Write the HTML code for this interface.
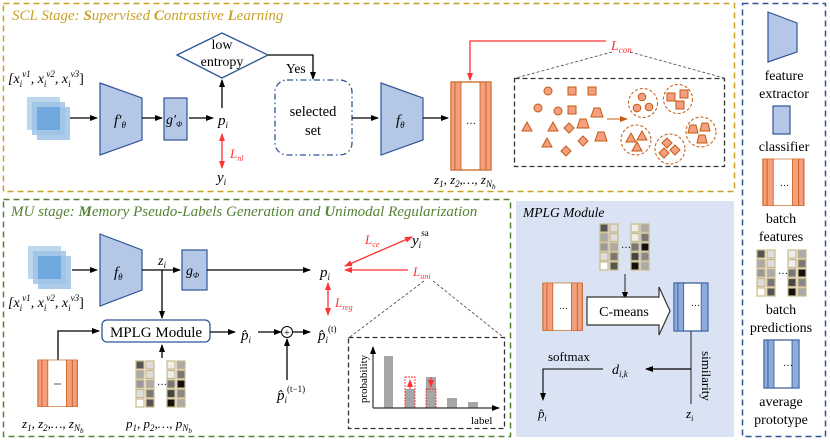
<!DOCTYPE html>
<html><head><meta charset="utf-8"><style>
html,body{margin:0;padding:0;background:#fff}
svg{display:block}
text{font-family:"Liberation Serif",serif;fill:#000}
.it{font-style:italic}
</style></head><body>
<svg width="830" height="440" viewBox="0 0 830 440" xmlns="http://www.w3.org/2000/svg">
<defs>
<marker id="a" markerWidth="8" markerHeight="8" refX="7" refY="4" orient="auto" markerUnits="userSpaceOnUse"><path d="M0,1 L8,4 L0,7 Z" fill="#000"/></marker>
<marker id="r" markerWidth="8" markerHeight="8" refX="7" refY="4" orient="auto" markerUnits="userSpaceOnUse"><path d="M0,1 L8,4 L0,7 Z" fill="#f33"/></marker>
<marker id="rs" markerWidth="8" markerHeight="8" refX="1" refY="4" orient="auto" markerUnits="userSpaceOnUse"><path d="M8,1 L0,4 L8,7 Z" fill="#f33"/></marker>
<marker id="o" markerWidth="8" markerHeight="8" refX="7" refY="4" orient="auto" markerUnits="userSpaceOnUse"><path d="M0,1 L8,4 L0,7 Z" fill="#c55a11"/></marker>
<g id="bf">
<rect x="0" y="0" width="40" height="88" fill="#fff" stroke="#c55a11" stroke-width="1.2"/>
<rect x="0" y="0" width="4" height="88" fill="#f4a080" stroke="#c55a11" stroke-width="0.8"/>
<rect x="4" y="0" width="6" height="88" fill="#f4a080" stroke="#c55a11" stroke-width="0.8"/>
<rect x="29" y="0" width="6" height="88" fill="#f4a080" stroke="#c55a11" stroke-width="0.8"/>
<rect x="35" y="0" width="5" height="88" fill="#f4a080" stroke="#c55a11" stroke-width="0.8"/>
</g>
<g id="bp">
<rect x="0" y="0" width="35" height="48" fill="#fff" stroke="#2f5597" stroke-width="1.2"/>
<rect x="0" y="0" width="4" height="48" fill="#8faadc" stroke="#2f5597" stroke-width="0.8"/>
<rect x="4" y="0" width="6" height="48" fill="#8faadc" stroke="#2f5597" stroke-width="0.8"/>
<rect x="28" y="0" width="7" height="48" fill="#8faadc" stroke="#2f5597" stroke-width="0.8"/>
</g>
<g id="grid" stroke="#c9b98a" stroke-width="1.2">
<rect x="0" y="0" width="8" height="8" fill="#555"/><rect x="0" y="9.5" width="8" height="8" fill="#aaa"/><rect x="0" y="19" width="8" height="8" fill="#999"/><rect x="0" y="28.5" width="8" height="8" fill="#ddd"/><rect x="0" y="38" width="8" height="8" fill="#fff"/>
<rect x="10" y="0" width="8" height="8" fill="#ddd"/><rect x="10" y="9.5" width="8" height="8" fill="#ddd"/><rect x="10" y="19" width="8" height="8" fill="#aaa"/><rect x="10" y="28.5" width="8" height="8" fill="#777"/><rect x="10" y="38" width="8" height="8" fill="#555"/>
<rect x="31" y="0" width="8" height="8" fill="#eee"/><rect x="31" y="9.5" width="8" height="8" fill="#eee"/><rect x="31" y="19" width="8" height="8" fill="#777"/><rect x="31" y="28.5" width="8" height="8" fill="#444"/><rect x="31" y="38" width="8" height="8" fill="#111"/>
<rect x="41" y="0" width="8" height="8" fill="#aaa"/><rect x="41" y="9.5" width="8" height="8" fill="#777"/><rect x="41" y="19" width="8" height="8" fill="#111"/><rect x="41" y="28.5" width="8" height="8" fill="#888"/><rect x="41" y="38" width="8" height="8" fill="#aaa"/>
<text x="21" y="24" font-size="10" stroke="none">…</text>
</g>
<g id="img">
<rect x="0" y="0" width="33" height="33" fill="#bdd7ee"/>
<rect x="5" y="5" width="33" height="33" fill="#9dc3e6" opacity="0.85"/>
<rect x="10" y="10" width="33" height="33" fill="#9dc3e6" opacity="0.85"/>
<rect x="10" y="10" width="23" height="23" fill="#6fa8dc"/>
</g>
</defs>

<!-- panels -->
<rect x="3.5" y="3.5" width="731" height="188" fill="none" stroke="#c9a227" stroke-width="1.5" stroke-dasharray="6,4"/>
<rect x="742.5" y="3.5" width="83" height="433" fill="none" stroke="#2f5597" stroke-width="1.5" stroke-dasharray="6,4"/>
<rect x="3.5" y="199.5" width="507" height="237" fill="none" stroke="#548235" stroke-width="1.5" stroke-dasharray="6,4"/>
<rect x="516" y="201" width="218" height="236" fill="#dae3f3"/>

<text x="12" y="20" class="it" font-size="15" style="fill:#c9a227">SCL Stage: <tspan font-weight="bold">S</tspan>upervised <tspan font-weight="bold">C</tspan>ontrastive <tspan font-weight="bold">L</tspan>earning</text>
<text x="11" y="216" class="it" font-size="15" style="fill:#548235">MU stage: <tspan font-weight="bold">M</tspan>emory Pseudo-Labels Generation and <tspan font-weight="bold">U</tspan>nimodal Regularization</text>

<!-- TOP -->
<text x="8" y="83" font-size="14" class="it">[x<tspan font-size="9" dy="4">i</tspan><tspan font-size="9" dy="-10">v1</tspan><tspan dy="6">, x</tspan><tspan font-size="9" dy="4">i</tspan><tspan font-size="9" dy="-10">v2</tspan><tspan dy="6">, x</tspan><tspan font-size="9" dy="4">i</tspan><tspan font-size="9" dy="-10">v3</tspan><tspan dy="6" font-style="normal">]</tspan></text>
<use href="#img" x="27" y="97"/>
<line x1="70" y1="118" x2="97" y2="118" stroke="#000" stroke-width="1.3" marker-end="url(#a)"/>
<polygon points="100,83 142,98 142,140 100,155" fill="#b4c7e7" stroke="#2f5597" stroke-width="1.2"/>
<text x="114" y="125" class="it" font-size="15">f′<tspan font-size="9" dy="3">θ</tspan></text>
<line x1="142" y1="118" x2="162" y2="118" stroke="#000" stroke-width="1.3" marker-end="url(#a)"/>
<rect x="164" y="98" width="23" height="42" fill="#b4c7e7" stroke="#2f5597" stroke-width="1.2"/>
<text x="166" y="124" class="it" font-size="14">g′<tspan font-size="8" dy="3">Φ</tspan></text>
<line x1="189" y1="118" x2="213" y2="118" stroke="#000" stroke-width="1.3" marker-end="url(#a)"/>
<text x="218" y="125" class="it" font-size="15">p<tspan font-size="9" dy="3">i</tspan></text>
<line x1="222" y1="108" x2="222" y2="80" stroke="#000" stroke-width="1.3" marker-end="url(#a)"/>
<polygon points="177,55 222,33 268,55 222,78" fill="#fff" stroke="#2f5597" stroke-width="1.3"/>
<text x="222" y="49" font-size="14" text-anchor="middle">low</text>
<text x="222" y="66" font-size="14" text-anchor="middle">entropy</text>
<polyline points="268,55 313,55 313,79" fill="none" stroke="#000" stroke-width="1.3" marker-end="url(#a)"/>
<text x="286" y="73" font-size="13.5">Yes</text>
<rect x="275" y="80" width="77" height="75" rx="12" fill="none" stroke="#2f5597" stroke-width="1.3" stroke-dasharray="6,3,1.5,3"/>
<text x="313" y="116" font-size="14.5" text-anchor="middle">selected</text>
<text x="313" y="135" font-size="14.5" text-anchor="middle">set</text>
<line x1="352" y1="118" x2="378" y2="118" stroke="#000" stroke-width="1.3" marker-end="url(#a)"/>
<polygon points="381,83 423,98 423,140 381,155" fill="#b4c7e7" stroke="#2f5597" stroke-width="1.2"/>
<text x="396" y="125" class="it" font-size="15">f<tspan font-size="9" dy="3">θ</tspan></text>
<line x1="423" y1="118" x2="448" y2="118" stroke="#000" stroke-width="1.3" marker-end="url(#a)"/>
<use href="#bf" x="451" y="82"/>
<text x="466" y="124" font-size="10">…</text>
<text x="434" y="184" class="it" font-size="13">z<tspan font-size="9" dy="3">1</tspan><tspan dy="-3">, z</tspan><tspan font-size="9" dy="3">2</tspan><tspan dy="-3">,…, z</tspan><tspan font-size="9" dy="3">N</tspan><tspan font-size="7" dy="2">b</tspan></text>
<polyline points="606,41 470,41 470,80" fill="none" stroke="#f33" stroke-width="1.3" marker-end="url(#r)"/>
<text x="611" y="50" class="it" font-size="14" style="fill:#f33">L<tspan font-size="9" dy="3">con</tspan></text>
<line x1="222" y1="134" x2="222" y2="168" stroke="#f33" stroke-width="1.3" marker-start="url(#rs)" marker-end="url(#r)"/>
<text x="230" y="158" class="it" font-size="13" style="fill:#f33">L<tspan font-size="8" dy="3">nl</tspan></text>
<text x="217" y="182" class="it" font-size="15">y<tspan font-size="9" dy="3">i</tspan></text>

<!-- zoom box top -->
<line x1="612" y1="52" x2="516" y2="78" stroke="#444" stroke-width="0.8" stroke-dasharray="3,2"/>
<line x1="630" y1="52" x2="724" y2="78" stroke="#444" stroke-width="0.8" stroke-dasharray="3,2"/>
<rect x="514.5" y="78.5" width="210" height="88" fill="none" stroke="#333" stroke-width="1.3" stroke-dasharray="5,3"/>
<g fill="#f4a080" stroke="#c55a11" stroke-width="1">
<circle cx="548" cy="91" r="4"/><circle cx="538" cy="108" r="4"/><circle cx="558" cy="111" r="4"/>
<rect x="568" y="87" width="8" height="8"/><rect x="588" y="87" width="8" height="8"/><rect x="568" y="106" width="8" height="8"/>
<polygon points="594,108 600,108 603,117 591,117"/><polygon points="580,119 586,119 589,128 577,128"/><polygon points="598,132 604,132 607,141 595,141"/>
<polygon points="527,122 532,131 522,131"/><polygon points="553,122 558,131 548,131"/><polygon points="547,138 552,147 542,147"/>
<polygon points="569,123 574,128 569,133 564,128"/><polygon points="583,136 588,141 583,146 578,141"/><polygon points="566,146 571,151 566,156 561,151"/>
</g>
<line x1="607" y1="119" x2="627" y2="119" stroke="#c55a11" stroke-width="1" marker-end="url(#o)"/>
<g fill="none" stroke="#c55a11" stroke-width="1" stroke-dasharray="3,2">
<circle cx="643" cy="103" r="14.5"/><circle cx="678" cy="99" r="14.5"/><circle cx="636" cy="140" r="15"/><circle cx="670" cy="149" r="15"/><circle cx="701" cy="132" r="15"/>
</g>
<g fill="#f4a080" stroke="#c55a11" stroke-width="1">
<circle cx="642" cy="97" r="3.8"/><circle cx="637" cy="108" r="3.8"/><circle cx="649" cy="107" r="3.8"/>
<rect x="667" y="93" width="8" height="8"/><rect x="680" y="90" width="8" height="8"/><rect x="676" y="101" width="8" height="8"/>
<polygon points="631,133 636,142 626,142"/><polygon points="642,131 647,140 637,140"/><polygon points="637,142 642,151 632,151"/>
<polygon points="667,138 672,143 667,148 662,143"/><polygon points="675,145 680,150 675,155 670,150"/><polygon points="664,148 669,153 664,158 659,153"/>
<polygon points="690,125 696,125 698,133 688,133"/><polygon points="702,123 708,123 710,131 700,131"/><polygon points="699,135 705,135 707,143 697,143"/>
</g>

<!-- LEGEND -->
<polygon points="768,12 797,23 797,52 768,62" fill="#b4c7e7" stroke="#2f5597" stroke-width="1.2"/>
<text x="784" y="80" font-size="14" text-anchor="middle">feature</text>
<text x="784" y="98" font-size="14" text-anchor="middle">extractor</text>
<rect x="773" y="106" width="17" height="28" fill="#b4c7e7" stroke="#2f5597" stroke-width="1.2"/>
<text x="784" y="151" font-size="14" text-anchor="middle">classifier</text>
<g transform="translate(763,159) scale(1.02,0.53)"><use href="#bf"/></g>
<text x="780" y="186" font-size="9">…</text>
<text x="781" y="223" font-size="14" text-anchor="middle">batch</text>
<text x="781" y="241" font-size="14" text-anchor="middle">features</text>
<use href="#grid" x="757" y="250"/>
<text x="781" y="314" font-size="14" text-anchor="middle">batch</text>
<text x="781" y="332" font-size="14" text-anchor="middle">predictions</text>
<use href="#bp" x="764" y="340"/>
<text x="783" y="366" font-size="10">…</text>
<text x="781" y="406" font-size="14" text-anchor="middle">average</text>
<text x="781" y="424" font-size="14" text-anchor="middle">prototype</text>

<!-- BOTTOM -->
<use href="#img" x="28" y="246"/>
<line x1="72" y1="270" x2="97" y2="270" stroke="#000" stroke-width="1.3" marker-end="url(#a)"/>
<polygon points="100,234 142,250 142,290 100,306" fill="#b4c7e7" stroke="#2f5597" stroke-width="1.2"/>
<text x="114" y="277" class="it" font-size="15">f<tspan font-size="9" dy="3">θ</tspan></text>
<text x="158" y="265" class="it" font-size="14">z<tspan font-size="9" dy="3">i</tspan></text>
<line x1="142" y1="270" x2="180" y2="270" stroke="#000" stroke-width="1.3" marker-end="url(#a)"/>
<line x1="162" y1="270" x2="162" y2="318" stroke="#000" stroke-width="1.3" marker-end="url(#a)"/>
<rect x="182" y="250" width="25" height="40" fill="#b4c7e7" stroke="#2f5597" stroke-width="1.2"/>
<text x="186" y="275" class="it" font-size="14">g<tspan font-size="8" dy="3">Φ</tspan></text>
<line x1="207" y1="270" x2="310" y2="270" stroke="#000" stroke-width="1.3" marker-end="url(#a)"/>
<text x="8" y="307" font-size="14" class="it">[x<tspan font-size="9" dy="4">i</tspan><tspan font-size="9" dy="-10">v1</tspan><tspan dy="6">, x</tspan><tspan font-size="9" dy="4">i</tspan><tspan font-size="9" dy="-10">v2</tspan><tspan dy="6">, x</tspan><tspan font-size="9" dy="4">i</tspan><tspan font-size="9" dy="-10">v3</tspan><tspan dy="6" font-style="normal">]</tspan></text>
<text x="320" y="277" class="it" font-size="15">p<tspan font-size="9" dy="3">i</tspan></text>
<rect x="102" y="320" width="108" height="22" rx="5" fill="#fff" stroke="#2f5597" stroke-width="1.3"/>
<text x="156" y="337" font-size="15" text-anchor="middle">MPLG Module</text>
<polyline points="58,360 58,331 99,331" fill="none" stroke="#000" stroke-width="1.3" marker-end="url(#a)"/>
<g transform="translate(38,360) scale(0.98,0.53)"><use href="#bf"/></g>
<line x1="54" y1="384" x2="61" y2="384" stroke="#333" stroke-width="0.8"/>
<use href="#grid" x="136" y="361"/>
<line x1="162" y1="358" x2="162" y2="345" stroke="#000" stroke-width="1.3" marker-end="url(#a)"/>
<line x1="210" y1="332" x2="235" y2="332" stroke="#000" stroke-width="1.3" marker-end="url(#a)"/>
<text x="241" y="340" class="it" font-size="15">p̂<tspan font-size="9" dy="3">i</tspan></text>
<line x1="258" y1="332" x2="281" y2="332" stroke="#000" stroke-width="1.3" marker-end="url(#a)"/>
<circle cx="287" cy="332" r="5.5" fill="#fff" stroke="#000" stroke-width="1"/>
<text x="287" y="336" font-size="10" text-anchor="middle">+</text>
<line x1="293" y1="332" x2="310" y2="332" stroke="#000" stroke-width="1.3" marker-end="url(#a)"/>
<line x1="287" y1="380" x2="287" y2="339" stroke="#000" stroke-width="1.3" marker-end="url(#a)"/>
<text x="318" y="340" class="it" font-size="15">p̂<tspan font-size="9" dy="3">i</tspan><tspan font-size="9" dy="-11" font-style="normal">(t)</tspan></text>
<text x="277" y="400" class="it" font-size="15">p̂<tspan font-size="9" dy="3">i</tspan><tspan font-size="9" dy="-11" font-style="normal">(t−1)</tspan></text>
<text x="22" y="428" class="it" font-size="13">z<tspan font-size="9" dy="3">1</tspan><tspan dy="-3">, z</tspan><tspan font-size="9" dy="3">2</tspan><tspan dy="-3">,…, z</tspan><tspan font-size="9" dy="3">N</tspan><tspan font-size="7" dy="2">b</tspan></text>
<text x="126" y="428" class="it" font-size="13">p<tspan font-size="9" dy="3">1</tspan><tspan dy="-3">, p</tspan><tspan font-size="9" dy="3">2</tspan><tspan dy="-3">,…, p</tspan><tspan font-size="9" dy="3">N</tspan><tspan font-size="7" dy="2">b</tspan></text>

<line x1="412" y1="237" x2="345" y2="266" stroke="#f33" stroke-width="1.3" marker-start="url(#rs)" marker-end="url(#r)"/>
<text x="365" y="244" class="it" font-size="13" style="fill:#f33">L<tspan font-size="8" dy="3">ce</tspan></text>
<text x="412" y="245" class="it" font-size="15">y<tspan font-size="9" dy="3">i</tspan><tspan font-size="9" dy="-12" font-style="normal">sa</tspan></text>
<line x1="408" y1="270" x2="345" y2="270" stroke="#f33" stroke-width="1.3" marker-end="url(#r)"/>
<text x="413" y="276" class="it" font-size="13" style="fill:#f33">L<tspan font-size="8" dy="3">uni</tspan></text>
<line x1="328" y1="283" x2="328" y2="315" stroke="#f33" stroke-width="1.3" marker-start="url(#rs)" marker-end="url(#r)"/>
<text x="335" y="307" class="it" font-size="13" style="fill:#f33">L<tspan font-size="8" dy="3">reg</tspan></text>
<line x1="424" y1="281" x2="350" y2="337" stroke="#444" stroke-width="0.8" stroke-dasharray="3,2"/>
<line x1="433" y1="281" x2="503" y2="337" stroke="#444" stroke-width="0.8" stroke-dasharray="3,2"/>
<rect x="348.5" y="337.5" width="156" height="91" fill="#fff" stroke="#333" stroke-width="1.3" stroke-dasharray="5,3"/>
<g fill="#a6a6a6">
<rect x="384" y="356" width="9" height="52"/><rect x="405" y="389" width="10" height="19"/><rect x="426" y="377" width="10" height="31"/><rect x="447" y="398" width="10" height="10"/><rect x="468" y="402" width="10" height="6"/>
</g>
<rect x="405" y="377" width="10" height="31" fill="none" stroke="#f33" stroke-width="0.9" stroke-dasharray="2,1"/>
<rect x="426" y="389" width="10" height="19" fill="none" stroke="#f33" stroke-width="0.9" stroke-dasharray="2,1"/>
<line x1="410" y1="389" x2="410" y2="380" stroke="#f33" stroke-width="1" marker-end="url(#r)"/>
<line x1="431" y1="377" x2="431" y2="387" stroke="#f33" stroke-width="1" marker-end="url(#r)"/>
<line x1="373" y1="408" x2="373" y2="347" stroke="#333" stroke-width="1.2" marker-end="url(#a)"/>
<line x1="373" y1="408" x2="499" y2="408" stroke="#333" stroke-width="1.2" marker-end="url(#a)"/>
<text x="367" y="379" font-size="11" text-anchor="middle" transform="rotate(-90 367 379)">probability</text>
<text x="471" y="424" font-size="11">label</text>

<!-- MPLG panel -->
<text x="523" y="217" class="it" font-size="13.5">MPLG Module</text>
<use href="#grid" x="600" y="224"/>
<line x1="625" y1="274" x2="625" y2="299" stroke="#333" stroke-width="1.1" marker-end="url(#a)"/>
<g transform="translate(543,283) scale(0.98,0.54)"><use href="#bf"/></g>
<text x="559" y="309" font-size="9">…</text>
<polygon points="587,297 659,297 659,287 670,311 659,335 659,325 587,325" fill="#fff" stroke="#333" stroke-width="1.2"/>
<text x="624" y="316" font-size="14" text-anchor="middle">C-means</text>
<g transform="translate(674,283) scale(0.97,1)"><use href="#bp"/></g>
<text x="691" y="306" font-size="9">…</text>
<line x1="691" y1="331" x2="691" y2="404" stroke="#333" stroke-width="1.1"/>
<line x1="691" y1="369" x2="646" y2="369" stroke="#000" stroke-width="1.2" marker-end="url(#a)"/>
<text x="702" y="376" font-size="13" transform="rotate(90 702 376)" text-anchor="middle">similarity</text>
<text x="612" y="374" class="it" font-size="14">d<tspan font-size="9" dy="3">i,k</tspan></text>
<text x="548" y="361" font-size="13">softmax</text>
<polyline points="603,369 543,369 543,400" fill="none" stroke="#000" stroke-width="1.1" marker-end="url(#a)"/>
<text x="538" y="418" class="it" font-size="13">p̂<tspan font-size="8" dy="3">i</tspan></text>
<text x="686" y="418" class="it" font-size="13">z<tspan font-size="8" dy="3">i</tspan></text>
</svg>
</body></html>
